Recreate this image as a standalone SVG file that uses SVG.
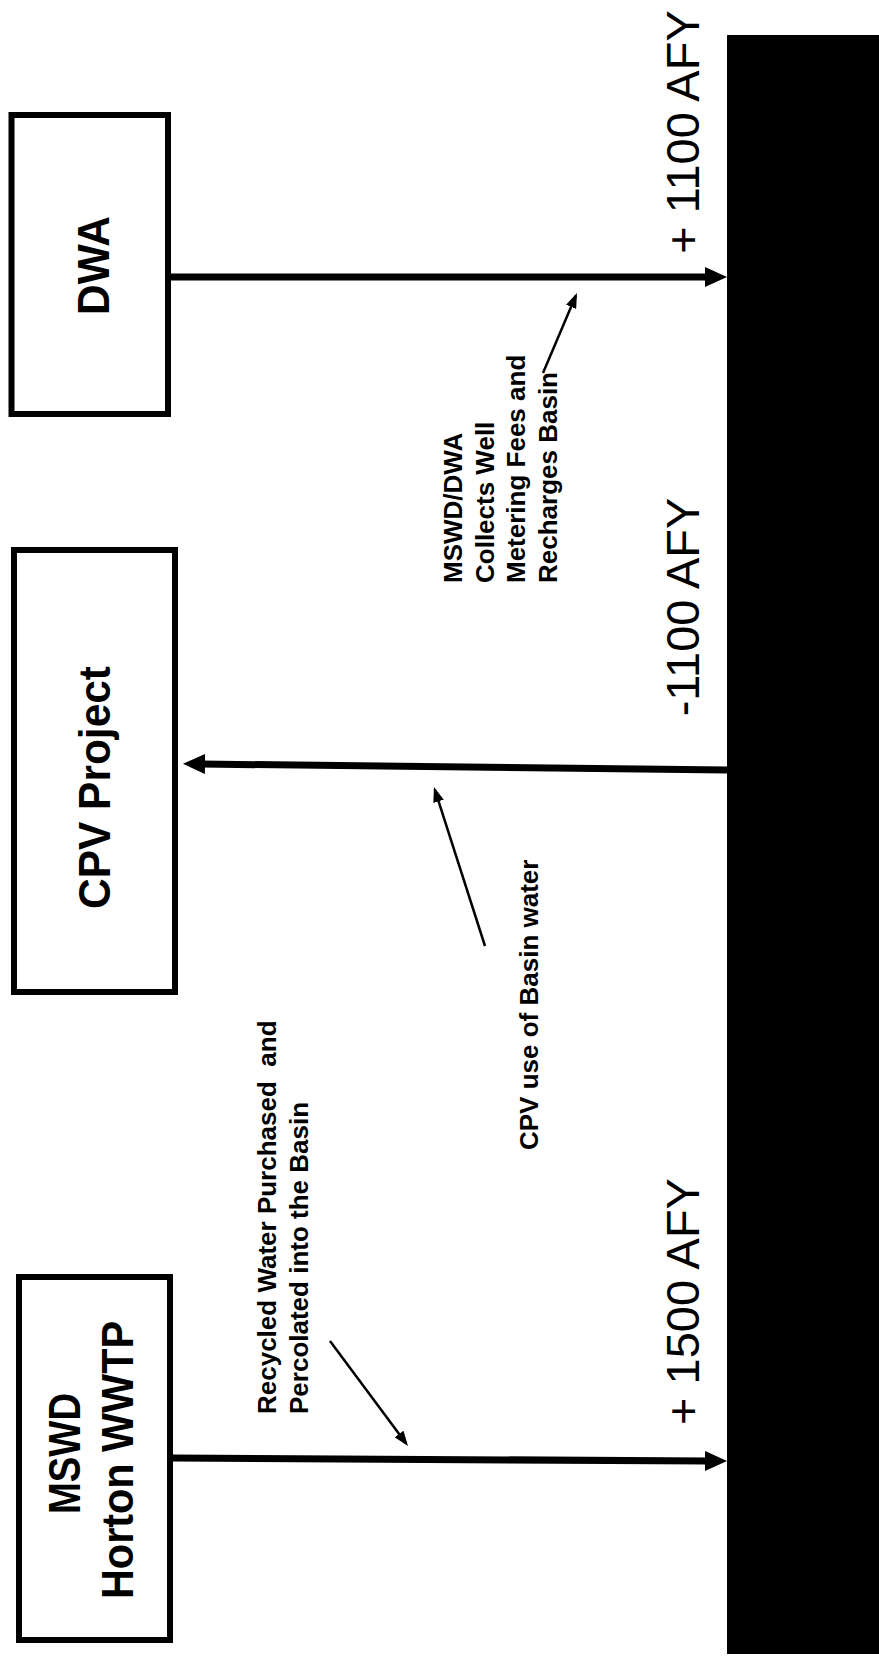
<svg xmlns="http://www.w3.org/2000/svg" width="879" height="1661" viewBox="0 0 879 1661">
<style>
.box{fill:#fff;stroke:#000;stroke-width:6}
.node{font-family:"Liberation Sans",Arial,sans-serif;font-weight:bold;font-size:44px;fill:#000}
.amt{font-family:"Liberation Sans",Arial,sans-serif;font-size:47px;fill:#000}
.note{font-family:"Liberation Sans",Arial,sans-serif;font-weight:bold;font-size:26px;fill:#000}
.main{stroke:#000;stroke-width:7;fill:none}
.ptr{stroke:#000;stroke-width:2.5;fill:none}
</style>
<defs>
<marker id="head" viewBox="0 0 22 20" refX="4" refY="10" markerWidth="22" markerHeight="20" markerUnits="userSpaceOnUse" orient="auto"><path d="M0,0 L22,10 L0,20 z" fill="#000"/></marker>
<marker id="phead" viewBox="0 0 15 11" refX="12" refY="5.5" markerWidth="15" markerHeight="11" markerUnits="userSpaceOnUse" orient="auto"><path d="M0,0 L15,5.5 L0,11 z" fill="#000"/></marker>
</defs>
<rect width="879" height="1661" fill="#fff"/>
<g id="basin">
<rect x="727" y="35" width="152" height="1619" fill="#000"/>
</g>
<g id="dwa">
<rect class="box" x="11.5" y="115" width="156.5" height="299"/>
<text class="node" text-anchor="middle" transform="translate(109,265.5) rotate(-90)" textLength="99" lengthAdjust="spacingAndGlyphs">DWA</text>
</g>
<g id="cpv">
<rect class="box" x="14" y="550" width="161" height="442"/>
<text class="node" text-anchor="middle" transform="translate(110,787.5) rotate(-90)" textLength="243" lengthAdjust="spacingAndGlyphs">CPV Project</text>
</g>
<g id="mswd">
<rect class="box" x="19" y="1277" width="151" height="363"/>
<text class="node" text-anchor="middle" transform="translate(80,1453.5) rotate(-90)" textLength="121" lengthAdjust="spacingAndGlyphs">MSWD</text>
<text class="node" text-anchor="middle" transform="translate(133,1460) rotate(-90)" textLength="278" lengthAdjust="spacingAndGlyphs">Horton WWTP</text>
</g>
<g id="connectors">
<line class="main" x1="171" y1="277" x2="709" y2="277" marker-end="url(#head)"/>
<line class="main" x1="727" y1="770" x2="201" y2="764" marker-end="url(#head)"/>
<line class="main" x1="173" y1="1458" x2="709" y2="1461" marker-end="url(#head)"/>
<line class="ptr" x1="543" y1="373" x2="575.8" y2="295.8" marker-end="url(#phead)"/>
<line class="ptr" x1="485" y1="946" x2="434.9" y2="789.9" marker-end="url(#phead)"/>
<line class="ptr" x1="330" y1="1341" x2="406.2" y2="1443.6" marker-end="url(#phead)"/>
</g>
<g id="labels">
<text class="amt" text-anchor="middle" transform="translate(699,132) rotate(-90)">+ 1100 AFY</text>
<text class="amt" text-anchor="middle" transform="translate(699,607) rotate(-90)">-1100 AFY</text>
<text class="amt" text-anchor="middle" transform="translate(699,1301.5) rotate(-90)">+ 1500 AFY</text>
<text class="note" transform="translate(462,583) rotate(-90)">MSWD/DWA</text>
<text class="note" transform="translate(493.5,583) rotate(-90)">Collects Well</text>
<text class="note" transform="translate(525,583) rotate(-90)">Metering Fees and</text>
<text class="note" transform="translate(556.5,583) rotate(-90)">Recharges Basin</text>
<text class="note" transform="translate(538,1150) rotate(-90)">CPV use of Basin water</text>
<text class="note" xml:space="preserve" transform="translate(276,1414) rotate(-90)">Recycled Water Purchased  and</text>
<text class="note" transform="translate(308,1414) rotate(-90)">Percolated into the Basin</text>
</g>
</svg>
